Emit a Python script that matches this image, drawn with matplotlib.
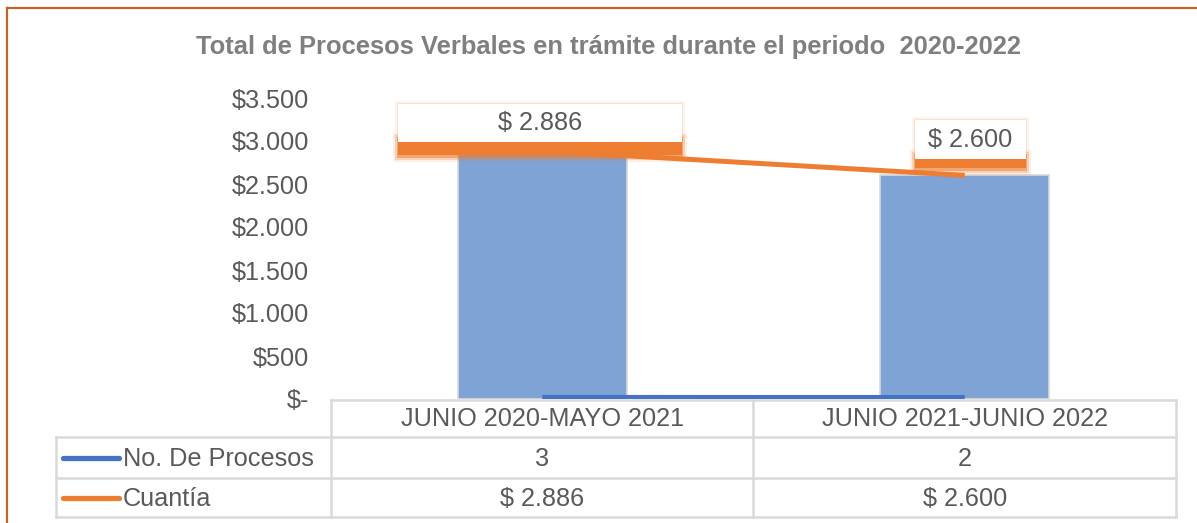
import matplotlib
matplotlib.use("Agg")
import matplotlib.pyplot as plt
from matplotlib.patches import Rectangle

plt.rcParams["font.family"] = ["Liberation Sans", "DejaVu Sans"]

# data
categories = ["JUNIO 2020-MAYO 2021", "JUNIO 2021-JUNIO 2022"]
procesos = [3, 2]
cuantia = [2886, 2600]
y_ticks = [0, 500, 1000, 1500, 2000, 2500, 3000, 3500]
title = "Total de Procesos Verbales en trámite durante el periodo  2020-2022"

W, H = 1197, 523
BAR_C = "#7EA3D4"
BLUE = "#4472C4"
ORANGE = "#ED7D31"
TXT = "#595959"
GRID = "#D9D9D9"
FS = 18.2


def money(v):
    if v == 0:
        return "$-"
    return "$" + f"{v:,}".replace(",", ".")


fig = plt.figure(figsize=(W / 100, H / 100), dpi=100)
ax = fig.add_axes([331 / W, 1 - 399 / H, (1176 - 331) / W, (399 - 98) / H])
x = list(range(len(categories)))

ax.bar(x, cuantia, width=0.40, color=BAR_C, edgecolor=GRID, linewidth=1.2, zorder=2)
ax.plot(x, cuantia, color=ORANGE, lw=3.6, zorder=3, solid_capstyle="butt")
ax.plot(x, procesos, color=BLUE, lw=5.5, zorder=3, solid_capstyle="butt")

ax.set_xlim(-0.5, len(categories) - 0.5)
ax.set_ylim(0, 3500)
ax.set_yticks(y_ticks)
ax.set_yticklabels([money(v) for v in y_ticks])
ax.set_xticks([])
ax.tick_params(axis="y", length=0, pad=16, labelsize=FS, labelcolor=TXT)
for s in ax.spines.values():
    s.set_visible(False)

# overlay in pixel coords for title, labels, data table and frame
ov = fig.add_axes([0, 0, 1, 1], zorder=5)
ov.set_xlim(0, W)
ov.set_ylim(H, 0)
ov.axis("off")


def to_px(xv, yv):
    dx, dy = ax.transData.transform((xv, yv))
    return dx, H - dy


# frame
ov.plot([7, 7], [8, H], color="#C5642A", lw=1.6)
ov.plot([7, W], [8, 8], color="#C5642A", lw=1.6)

ov.text(608, 47, title, ha="center", va="center", fontsize=18.4,
        fontweight="bold", color="#7F7F7F")

# data labels: (left, right, top, white bottom, shadow bottom) offsets in px
label_boxes = [(-144, 140, -47, -9, 6), (-50, 61, -55, -16, -5)]
for xi, v, (l, r, t, wb, sb) in zip(x, cuantia, label_boxes):
    px, py = to_px(xi, v)
    for grow, a in [(5, 0.12), (3, 0.25), (1, 0.5)]:
        ov.add_patch(Rectangle((px + l - grow, py + wb - 4 - grow), r - l + 2 * grow,
                               sb - wb + 4 + 2 * grow, color=ORANGE, alpha=a, lw=0))
    ov.add_patch(Rectangle((px + l, py + wb - 4), r - l, sb - wb + 2, color=ORANGE, lw=0))
    for grow, a in [(3, 0.08), (1, 0.15)]:
        ov.add_patch(Rectangle((px + l - grow, py + t - grow), r - l + 2 * grow,
                               wb - t + grow, color=ORANGE, alpha=a, lw=0))
    ov.add_patch(Rectangle((px + l, py + t), r - l, wb - t, color="white", lw=0))
    ov.text(px + (l + r) / 2, py + (t + wb) / 2, "$ " + f"{v:,}".replace(",", "."),
            ha="center", va="center", fontsize=FS, color=TXT)

# data table
left_col, first, mid, right = 56, 331, 753, 1176
rows = [400, 437, 478, 517]
ov.plot([first, right], [rows[0], rows[0]], color=GRID, lw=1.8)
for yy in rows[1:]:
    ov.plot([left_col, right], [yy, yy], color=GRID, lw=1.8)
ov.plot([left_col, left_col], [rows[1], rows[3]], color=GRID, lw=1.8)
for xx in (first, mid, right):
    ov.plot([xx, xx], [rows[0], rows[3]], color=GRID, lw=1.8)

for xi, cat, p, c in zip(x, categories, procesos, cuantia):
    cx, _ = to_px(xi, 0)
    ov.text(cx, (rows[0] + rows[1]) / 2 + 1, cat, ha="center", va="center",
            fontsize=FS, color=TXT)
    ov.text(cx, (rows[1] + rows[2]) / 2 + 1, str(p), ha="center", va="center",
            fontsize=FS, color=TXT)
    ov.text(cx, (rows[2] + rows[3]) / 2 + 1, "$ " + f"{c:,}".replace(",", "."),
            ha="center", va="center", fontsize=FS, color=TXT)

for (name, col), (y0, y1) in zip([("No. De Procesos", BLUE), ("Cuantía", ORANGE)],
                                 [(rows[1], rows[2]), (rows[2], rows[3])]):
    yc = (y0 + y1) / 2
    ov.plot([63, 119], [yc, yc], color=col, lw=3.8, solid_capstyle="round")
    ov.text(123, yc + 1, name, ha="left", va="center", fontsize=FS, color=TXT)

fig.savefig("out.png", dpi=100)
